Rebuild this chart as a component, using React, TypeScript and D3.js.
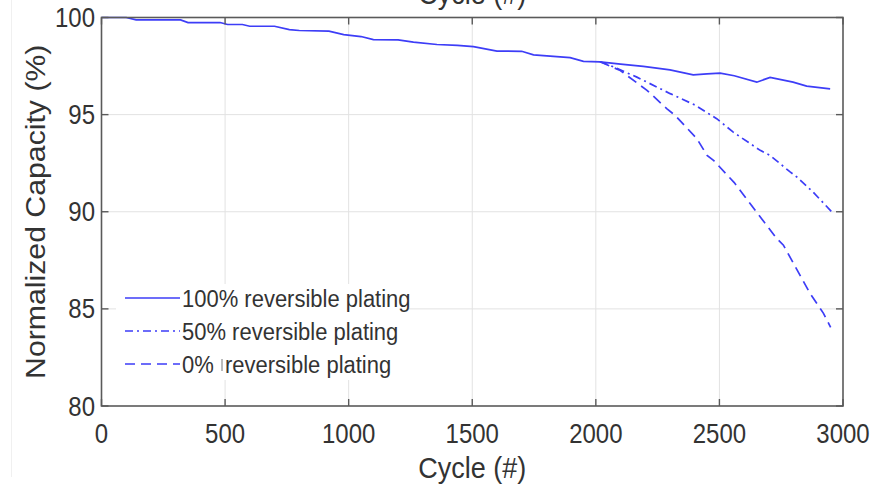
import React, { useEffect, useRef } from "react";
import * as d3 from "d3";

// cycle / capacity values
const fullCycles = [0, 100, 140, 320, 350, 480, 510, 570, 600, 700, 760, 800, 920, 980, 1050, 1100, 1200, 1262, 1357, 1440, 1505, 1600, 1700, 1748, 1842, 1896, 1950, 2017, 2100, 2192, 2300, 2394, 2450, 2503, 2560, 2651, 2705, 2798, 2853, 2948];
const fullValues = [100, 100, 99.88, 99.88, 99.74, 99.74, 99.64, 99.64, 99.55, 99.55, 99.38, 99.33, 99.3, 99.12, 99.02, 98.86, 98.85, 98.73, 98.61, 98.56, 98.5, 98.27, 98.26, 98.08, 97.99, 97.93, 97.74, 97.72, 97.6, 97.48, 97.3, 97.05, 97.1, 97.14, 97.0, 96.67, 96.92, 96.67, 96.47, 96.33];

const halfCycles = [2017, 2058, 2166, 2301, 2400, 2489, 2556, 2665, 2705, 2786, 2813, 2880, 2955];
const halfValues = [97.72, 97.53, 96.93, 96.08, 95.5, 94.79, 94.1, 93.16, 92.9, 92.05, 91.79, 91.0, 89.99];

const zeroCycles = [2017, 2099, 2207, 2288, 2321, 2409, 2450, 2476, 2560, 2624, 2732, 2759, 2867, 2921, 2950];
const zeroValues = [97.72, 97.27, 96.25, 95.3, 94.96, 93.76, 92.9, 92.65, 91.5, 90.42, 88.62, 88.28, 85.79, 84.77, 84.05];

const xTicks = [0, 500, 1000, 1500, 2000, 2500, 3000];
const yTicks = [80, 85, 90, 95, 100];

const legendLabels = ["100% reversible plating", "50% reversible plating", "0% reversible plating"];

const drawChart = (svgEl: SVGSVGElement) => {
  const width = 886;
  const height = 487;
  const margin = { top: 17.5, right: 43, bottom: 81, left: 101.5 };
  const stretch = 1.12; // the original screenshot is slightly taller than wide
  const blue = "#3d3df7";
  const axisColor = "#5a5a5a";
  const textColor = "#333333";
  const font = "'Liberation Sans', Arial, sans-serif";

  const svg = d3.select(svgEl);
  svg.selectAll("*").remove();

  const x = d3.scaleLinear().domain([0, 3000]).range([margin.left, width - margin.right]);
  const y = d3.scaleLinear().domain([80, 100]).range([height - margin.bottom, margin.top]);

  svg.append("rect").attr("width", width).attr("height", height).attr("fill", "#ffffff");

  // faint frame line from the screenshot
  svg
    .append("line")
    .attr("x1", 11.5)
    .attr("x2", 11.5)
    .attr("y1", 0)
    .attr("y2", 477)
    .attr("stroke", "#f0f0f0")
    .attr("stroke-width", 1);

  const addText = (
    str: string,
    tx: number,
    ty: number,
    size: number,
    anchor: string,
    transform?: string
  ) =>
    svg
      .append("text")
      .attr("transform", transform || `translate(${tx},${ty}) scale(1,${stretch})`)
      .attr("text-anchor", anchor)
      .style("font-family", font)
      .style("font-size", `${size}px`)
      .attr("fill", textColor)
      .text(str);

  // clipped title of the plot above
  addText("Cycle (#)", (x(0) + x(3000)) / 2, 3.5, 27, "middle");

  // grid
  svg
    .append("g")
    .selectAll("line")
    .data(xTicks.slice(1, -1))
    .enter()
    .append("line")
    .attr("x1", (d) => x(d))
    .attr("x2", (d) => x(d))
    .attr("y1", y(100))
    .attr("y2", y(80))
    .attr("stroke", "#e2e2e2")
    .attr("stroke-width", 1);

  svg
    .append("g")
    .selectAll("line")
    .data(yTicks.slice(1, -1))
    .enter()
    .append("line")
    .attr("x1", x(0))
    .attr("x2", x(3000))
    .attr("y1", (d) => y(d))
    .attr("y2", (d) => y(d))
    .attr("stroke", "#e2e2e2")
    .attr("stroke-width", 1);

  // lines
  const line = d3
    .line<[number, number]>()
    .x((d) => x(d[0]))
    .y((d) => y(d[1]));

  const series = [
    { cycles: fullCycles, values: fullValues, dash: null },
    { cycles: halfCycles, values: halfValues, dash: "8,4,2,4" },
    { cycles: zeroCycles, values: zeroValues, dash: "10,6" },
  ];

  series.forEach((s) => {
    const pts = s.cycles.map((c, i) => [c, s.values[i]] as [number, number]);
    svg
      .append("path")
      .attr("d", line(pts))
      .attr("fill", "none")
      .attr("stroke", blue)
      .attr("stroke-width", 1.7)
      .attr("stroke-dasharray", s.dash);
  });

  // axes box with inward ticks
  const box = svg.append("g");
  box
    .append("rect")
    .attr("x", x(0))
    .attr("y", y(100))
    .attr("width", x(3000) - x(0))
    .attr("height", y(80) - y(100))
    .attr("fill", "none")
    .attr("stroke", axisColor)
    .attr("stroke-width", 1.6);

  const tickLen = 7;
  xTicks.forEach((t) => {
    box
      .append("line")
      .attr("x1", x(t))
      .attr("x2", x(t))
      .attr("y1", y(80))
      .attr("y2", y(80) - tickLen)
      .attr("stroke", axisColor)
      .attr("stroke-width", 1.4);
    box
      .append("line")
      .attr("x1", x(t))
      .attr("x2", x(t))
      .attr("y1", y(100))
      .attr("y2", y(100) + tickLen)
      .attr("stroke", axisColor)
      .attr("stroke-width", 1.4);
    addText(String(t), x(t), 443, 24, "middle");
  });

  yTicks.forEach((t) => {
    box
      .append("line")
      .attr("x1", x(0))
      .attr("x2", x(0) + tickLen)
      .attr("y1", y(t))
      .attr("y2", y(t))
      .attr("stroke", axisColor)
      .attr("stroke-width", 1.4);
    box
      .append("line")
      .attr("x1", x(3000))
      .attr("x2", x(3000) - tickLen)
      .attr("y1", y(t))
      .attr("y2", y(t))
      .attr("stroke", axisColor)
      .attr("stroke-width", 1.4);
    addText(String(t), 95, y(t) + 9.5, 24, "end");
  });

  // axis labels
  addText("Cycle (#)", (x(0) + x(3000)) / 2, 478, 27, "middle");
  addText("Normalized Capacity (%)", 0, 0, 27, "middle", `translate(45,${(y(80) + y(100)) / 2}) rotate(-90) scale(${stretch},1)`);

  // legend (no border, white background)
  const legendTop = 298;
  const legendStep = 33;
  svg
    .append("rect")
    .attr("x", 116)
    .attr("y", 284)
    .attr("width", 292)
    .attr("height", 96)
    .attr("fill", "#ffffff");

  series.forEach((s, i) => {
    const ly = legendTop + i * legendStep;
    svg
      .append("line")
      .attr("x1", 125)
      .attr("x2", 180)
      .attr("y1", ly)
      .attr("y2", ly)
      .attr("stroke", blue)
      .attr("stroke-width", 1.7)
      .attr("stroke-dasharray", s.dash);
    if (i < 2) {
      addText(legendLabels[i], 182, ly + 8.5, 22, "start");
    } else {
      // last label has a wider gap and a stray mark in the original
      const parts = legendLabels[i].split(" ");
      addText(parts[0], 182, ly + 8.5, 22, "start");
      svg
        .append("line")
        .attr("x1", 222)
        .attr("x2", 222)
        .attr("y1", ly - 5)
        .attr("y2", ly + 7)
        .attr("stroke", "#777")
        .attr("stroke-width", 1);
      addText(parts.slice(1).join(" "), 225, ly + 8.5, 22, "start");
    }
  });
};

const App = () => {
  const svgRef = useRef<SVGSVGElement>(null);

  useEffect(() => {
    if (svgRef.current) drawChart(svgRef.current);
  }, []);

  return (
    <svg
      ref={svgRef}
      width="886"
      height="487"
      style={{ position: "absolute", left: 0, top: 0, display: "block" }}
    ></svg>
  );
};

export default App;
